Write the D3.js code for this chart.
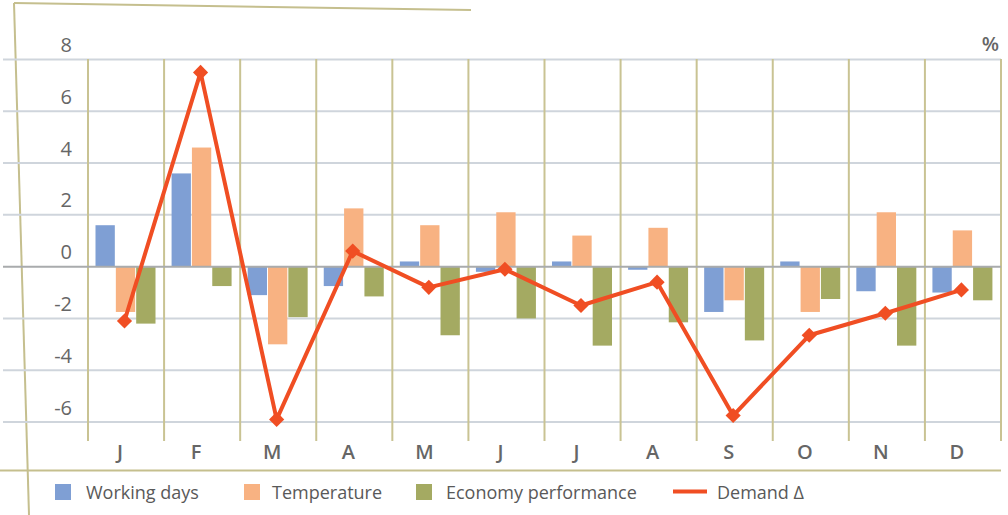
<!DOCTYPE html>
<html>
<head>
<meta charset="utf-8">
<script src="https://cdn.jsdelivr.net/npm/d3@7"></script>
<style>
  html, body { margin: 0; padding: 0; background: #fff; }
  svg { display: block; font-family: "Open Sans", "Noto Sans", sans-serif; }
</style>
</head>
<body>
<svg id="chart" width="1008" height="515"></svg>
<script>
const months = ["J", "F", "M", "A", "M", "J", "J", "A", "S", "O", "N", "D"];
const workingDays = [1.6, 3.6, -1.1, -0.75, 0.2, -0.2, 0.2, -0.12, -1.75, 0.2, -0.95, -1.0];
const temperature = [-1.75, 4.6, -3.0, 2.25, 1.6, 2.1, 1.2, 1.5, -1.3, -1.75, 2.1, 1.4];
const economy = [-2.2, -0.75, -1.95, -1.15, -2.65, -2.0, -3.05, -2.15, -2.85, -1.25, -3.05, -1.3];
const demand = [-2.1, 7.5, -5.9, 0.6, -0.8, -0.1, -1.5, -0.6, -5.75, -2.65, -1.8, -0.9];
const yTicks = [8, 6, 4, 2, 0, -2, -4, -6];
const seriesNames = ["Working days", "Temperature", "Economy performance"];
const seriesColors = ["#7f9fd4", "#f8b282", "#a4aa62"];
const demandName = "Demand Δ";
const demandColor = "#f04e23";

const svg = d3.select("#chart");
const frameColor = "#c5bf8e";
const gridColor = "#cfd5dc";

const x = d3.scaleBand().domain(d3.range(months.length)).range([88, 1001]).padding(0);
const y = d3.scaleLinear().domain([-6, 8]).range([422, 59.5]);
const xSub = d3.scaleBand().domain(d3.range(3)).range([7.5, 67.5]).paddingInner(0.05);

// decorative frame
svg.append("path").attr("d", "M14,3 L471,10").attr("stroke", frameColor).attr("stroke-width", 2).attr("fill", "none");
svg.append("path").attr("d", "M14,3 L29,515").attr("stroke", frameColor).attr("stroke-width", 2).attr("fill", "none");
svg.append("line").attr("x1", 0).attr("x2", 1001).attr("y1", 470.5).attr("y2", 470.5)
  .attr("stroke", frameColor).attr("stroke-width", 2);

// horizontal gridlines
svg.append("g").selectAll("line").data(yTicks.filter(d => d !== 0)).join("line")
  .attr("x1", 3).attr("x2", 1001)
  .attr("y1", d => y(d)).attr("y2", d => y(d))
  .attr("stroke", gridColor).attr("stroke-width", 2);

// vertical category lines
const bounds = d3.range(months.length).map(i => x(i)).concat([x.range()[1]]);
svg.append("g").selectAll("line").data(bounds).join("line")
  .attr("x1", d => d).attr("x2", d => d)
  .attr("y1", 59).attr("y2", 441)
  .attr("stroke", "#c9c393").attr("stroke-width", 2);

// y labels
svg.append("g").selectAll("text").data(yTicks).join("text")
  .attr("x", 72).attr("y", d => y(d) - 15)
  .attr("text-anchor", "end").attr("dominant-baseline", "central")
  .attr("font-size", 20).attr("fill", "#666")
  .text(d => d < 0 ? "-" + Math.abs(d) : d);

svg.append("text").attr("x", 999).attr("y", 43).attr("text-anchor", "end")
  .attr("dominant-baseline", "central").attr("font-size", 20).attr("font-weight", 600)
  .attr("fill", "#666").text("%");

// bars
const series = [workingDays, temperature, economy];
series.forEach((vals, si) => {
  svg.append("g").selectAll("rect").data(vals).join("rect")
    .attr("x", (d, i) => x(i) + xSub(si))
    .attr("width", xSub.bandwidth())
    .attr("y", d => y(Math.max(0, d)))
    .attr("height", d => Math.abs(y(d) - y(0)))
    .attr("fill", seriesColors[si]);
});

// zero line
svg.append("line").attr("x1", 3).attr("x2", 1001).attr("y1", y(0)).attr("y2", y(0))
  .attr("stroke", "#a9abad").attr("stroke-width", 2);

// category labels
svg.append("g").selectAll("text").data(months).join("text")
  .attr("x", (d, i) => x(i) + x.bandwidth() / 2 - 6)
  .attr("y", 451).attr("text-anchor", "middle").attr("dominant-baseline", "central")
  .attr("font-size", 20).attr("font-weight", 600).attr("fill", "#666")
  .text(d => d);

// demand line
const cx = i => x(i) + xSub(1) + xSub.bandwidth() / 2 - 10;
svg.append("path").datum(demand)
  .attr("d", d3.line().x((d, i) => x(i) + xSub(0) + xSub.bandwidth() * 1.5).y(d => y(d)))
  .attr("fill", "none").attr("stroke", demandColor).attr("stroke-width", 4)
  .attr("stroke-linejoin", "round");
svg.append("g").selectAll("path").data(demand).join("path")
  .attr("d", d3.symbol().type(d3.symbolSquare).size(115))
  .attr("transform", (d, i) => `translate(${x(i) + xSub(0) + xSub.bandwidth() * 1.5},${y(d)}) rotate(45)`)
  .attr("fill", demandColor);

// legend
const legendItems = [
  { name: seriesNames[0], color: seriesColors[0], sx: 55, tx: 86 },
  { name: seriesNames[1], color: seriesColors[1], sx: 244, tx: 272 },
  { name: seriesNames[2], color: seriesColors[2], sx: 416, tx: 446 }
];
const lg = svg.append("g");
legendItems.forEach(it => {
  lg.append("rect").attr("x", it.sx).attr("y", 484).attr("width", 16).attr("height", 16).attr("fill", it.color);
  lg.append("text").attr("x", it.tx).attr("y", 492).attr("dominant-baseline", "central")
    .attr("font-size", 18).attr("fill", "#595959").text(it.name);
});
lg.append("line").attr("x1", 673).attr("x2", 707).attr("y1", 491.5).attr("y2", 491.5)
  .attr("stroke", demandColor).attr("stroke-width", 4);
lg.append("text").attr("x", 717).attr("y", 492).attr("dominant-baseline", "central")
  .attr("font-size", 18).attr("fill", "#595959").text(demandName);
</script>
</body>
</html>
